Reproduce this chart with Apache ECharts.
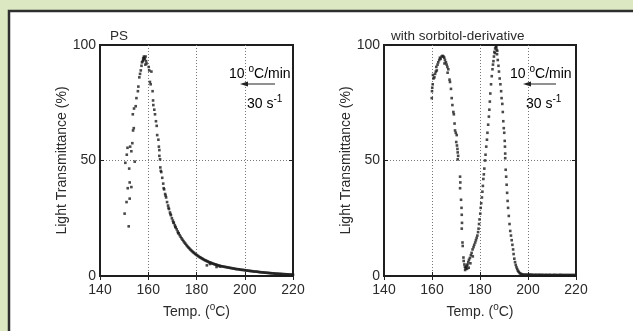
<!DOCTYPE html>
<html>
<head>
<meta charset="utf-8">
<script src="https://cdn.jsdelivr.net/npm/echarts@6/dist/echarts.min.js"></script>
<style>
html,body{margin:0;padding:0;background:#dbe8c2;}
#c{width:633px;height:331px;}
</style>
</head>
<body>
<div id="c"></div>
<script>
// ---- data ----
var xTicks = [140, 160, 180, 200, 220];
var yTicks = [0, 50, 100];
var titles = ['PS', 'with sorbitol-derivative'];

// PS: temperature (°C) and light transmittance (%)
var psTemp = [
151.9,150.2,151.0,152.3,151.5,153.0,152.3,152.1,150.5,154.4,151.1,153.0,151.4,153.4,152.5,153.7,154.0,153.6,154.1,154.8,
155.1,155.7,155.9,156.3,156.6,156.9,157.2,157.4,157.7,158.0,158.3,158.6,158.9,159.1,159.3,158.8,158.2,157.9,
160.2,160.4,161.3,160.7,161.0,161.8,162.0,162.1,162.5,162.8,163.2,163.5,163.7,164.2,164.4,164.6,164.9,164.6,
165.0,165.4,165.8,166.2,166.6,167.0,167.4,167.8,168.2,168.6,169.0,169.4,169.8,170.2,170.6,171.0,171.4,171.8,172.2,172.6,
173.0,173.4,173.8,174.2,174.6,175.0,175.4,175.8,176.2,176.6,177.0,177.4,177.8,178.2,178.6,179.0,179.4,179.8,180.2,180.6,
181.0,181.4,181.8,182.2,182.6,183.0,183.4,183.8,184.2,184.6,185.0,185.4,185.8,186.2,186.6,187.0,187.4,187.8,188.2,188.6,
189.0,189.5,190.0,190.5,191.0,191.5,192.0,192.5,193.0,193.5,194.0,194.5,195.0,195.5,196.0,196.5,197.0,197.5,198.0,198.5,
199.0,199.5,200.0,200.5,201.0,201.5,202.0,202.5,203.0,203.5,204.0,204.5,205.0,205.5,206.0,206.5,207.0,207.5,208.0,208.5,
209.0,209.5,210.0,210.5,211.0,211.5,212.0,212.5,213.0,213.5,214.0,214.5,215.0,215.5,216.0,216.5,217.0,217.5,218.0,218.5,
219.0,219.5,220.0,184.3,185.6,188.3,189.7,165.2,166.4,167.2,168.4,169.2,170.4,171.2,172.4
];
var psTrans = [
21.5,27,32,33.5,38,38.5,40.5,46.5,49,49.5,52.5,54,55.5,57.5,56,63,64,70,72.5,73.5,
77,80,82,86,87.5,89,91,92.5,93,93.5,94.5,94,95,93,92,91.5,95,94.2,
90.5,89,88.5,84,83,80,76,74,72,70,67,65,61,59,56,54.5,50.5,52,
47,45,42.5,40,37.5,35.5,34,32,30.5,29,27.5,26.3,25,24,23,22,21,20.2,19.3,18.5,
17.7,17,16.3,15.7,15.1,14.5,14,13.4,12.9,12.4,12,11.5,11.1,10.7,10.3,10,9.6,9.3,9,8.7,
8.4,8.1,7.9,7.6,7.4,7.1,6.9,6.7,6.5,6.3,6.1,5.9,5.8,5.6,5.4,5.3,5.1,5.0,4.9,4.7,
4.6,4.5,4.3,4.2,4.1,4.0,3.9,3.8,3.7,3.6,3.5,3.4,3.3,3.2,3.1,3.0,2.95,2.9,2.8,2.7,
2.65,2.6,2.5,2.4,2.35,2.3,2.2,2.15,2.1,2.0,1.95,1.9,1.85,1.8,1.7,1.65,1.6,1.55,1.5,1.45,
1.4,1.35,1.3,1.25,1.2,1.15,1.1,1.05,1.0,1.0,0.95,0.9,0.9,0.85,0.8,0.8,0.75,0.7,0.7,0.65,
0.6,0.6,0.55,4.6,5.2,3.9,4.1,45.5,38,34.8,29.5,26.8,23.2,21.3,18.6
];

// with sorbitol-derivative
var sbTemp = [
159.9,160.0,160.1,160.3,160.6,160.4,161.0,161.3,161.6,162.0,161.8,162.3,162.6,163.0,163.3,163.6,164.0,164.4,164.8,165.1,
165.4,165.2,165.8,166.1,166.4,166.8,166.5,167.3,167.5,167.9,168.2,168.5,168.9,169.1,169.4,169.6,169.9,170.3,170.1,170.4,
170.6,170.7,170.9,170.7,171.7,171.8,171.7,172.1,172.3,172.4,172.5,172.4,172.7,172.8,173.1,173.2,173.5,173.7,174.0,174.3,
174.5,174.8,175.1,175.4,175.8,176.2,176.5,176.9,177.3,177.6,178.0,178.3,178.6,178.9,179.2,179.4,179.6,179.8,180.1,180.3,
180.5,180.8,181.0,181.2,181.4,181.6,181.8,182.1,182.3,182.6,182.9,183.1,183.4,183.7,183.9,184.1,184.3,184.6,184.9,185.2,
185.6,185.8,186.0,186.3,186.6,186.9,187.1,187.4,187.7,187.9,188.2,188.5,188.8,189.0,189.3,189.5,189.7,189.9,190.1,190.3,
190.4,190.5,190.5,190.7,190.9,191.1,191.3,191.5,191.7,192.0,192.3,192.6,192.9,193.2,193.5,193.8,194.0,194.3,194.6,194.9,
195.2,195.5,195.8,196.1,196.5,196.9,197.4,198.0,198.5,199.0,199.5,200.0,200.5,201.0,201.5,202.0,202.5,203.0,203.5,204.0,
204.5,205.0,205.5,206.0,206.5,207.0,207.5,208.0,208.5,209.0,209.5,210.0,210.5,211.0,211.5,212.0,212.5,213.0,213.5,214.0,
214.5,215.0,215.5,216.0,216.5,217.0,217.5,218.0,218.5,219.0,219.5,173.8,174.6,175.3,176.0,177.0,185.4,186.2,186.8,187.2
];
var sbTrans = [
77,80,81.5,83,85.5,87,86,87.5,88.5,89,90.5,91.5,92.5,93.5,94.5,94,95,95.3,95,94.5,
93.5,92,92.5,91.5,90.5,89.5,88,85,84,81,77,74,71,70,66,63,62,61,58,56.5,
55,53.5,52,50.5,43,40.5,38,33,29.5,26.5,23,20.5,14.5,13,8,6.5,5,4,3.3,3.8,
4.5,5,6,7,7.8,9,10,11.5,12.5,13.5,14.5,15.5,16.5,17.5,19,20.5,22.5,24.5,27,29.5,
31.5,34,36.5,39,42,44,46.5,50,52.5,56,59,62,65.5,69,72,75.5,79,83,86.5,89.5,
93,95,97,98.5,99.3,98,96,93.5,91,88.5,85.5,83,80,77,74.5,71,67,64,62,58.5,
56,53,51,46,43,39.5,36,32.5,29.5,26,22.5,19.5,17.5,15.5,13.5,11.5,9.5,7.5,6,4.8,
3.8,3,2.3,1.8,1.3,1,0.8,0.6,0.6,0.5,0.6,0.5,0.5,0.6,0.5,0.5,0.4,0.5,0.5,0.4,
0.5,0.5,0.4,0.5,0.4,0.4,0.5,0.4,0.4,0.5,0.4,0.4,0.4,0.5,0.4,0.4,0.4,0.4,0.5,0.4,
0.4,0.4,0.4,0.4,0.4,0.4,0.4,0.4,0.4,0.4,0.4,2.6,3.1,3.6,5.5,8.5,91.5,96.5,99,97.5
];

function pairs(xs, ys){ return xs.map(function(x,i){ return [x, ys[i]]; }); }

var chart = echarts.init(document.getElementById('c'));
var FONT = 'Liberation Sans, Arial, sans-serif';
var TXT = '#2b2b2b';
var FS = 14;
var supRich = {
  n: {fontSize: FS, fontFamily: FONT, color: TXT, lineHeight: 17, verticalAlign: 'bottom'},
  sup: {fontSize: 10, fontFamily: FONT, color: TXT, lineHeight: 17, verticalAlign: 'top', padding: [0,0,7,0]}
};

var grids = [
  {left: 100, top: 45, width: 193, height: 231},
  {left: 384, top: 45, width: 192, height: 231}
];

function xBottom(g){
  return {
    type: 'value', gridIndex: g, min: 140, max: 220, interval: 20,
    axisLine: {show: false},
    axisTick: {show: true, inside: true, length: 4, lineStyle: {color: '#222', width: 1}},
    axisLabel: {margin: 7, fontSize: FS, fontFamily: FONT, color: TXT,
      customValues: xTicks},
    splitLine: {show: true, showMinLine: false, showMaxLine: false,
      lineStyle: {type: [1, 2], color: '#777', width: 1}},
    name: '{n|Temp. (}{sup|o}{n|C)}', nameLocation: 'middle', nameGap: 24,
    nameTextStyle: {rich: supRich}
  };
}
function xTop(g){
  return {
    type: 'value', gridIndex: g, position: 'top', min: 140, max: 220, interval: 20,
    axisLine: {show: false},
    axisTick: {show: true, inside: true, length: 4, lineStyle: {color: '#222', width: 1}},
    axisLabel: {show: false}, splitLine: {show: false}
  };
}
function yLeft(g){
  return {
    type: 'value', gridIndex: g, min: 0, max: 100, interval: 50,
    axisLine: {show: false},
    axisTick: {show: true, inside: true, length: 4, lineStyle: {color: '#222', width: 1}},
    axisLabel: {margin: 4, fontSize: FS, fontFamily: FONT, color: TXT, customValues: yTicks},
    splitLine: {show: true, showMinLine: false, showMaxLine: false,
      lineStyle: {type: [1, 2], color: '#777', width: 1}},
    name: 'Light Transmittance (%)', nameLocation: 'middle', nameGap: 26,
    nameTextStyle: {fontSize: FS, fontFamily: FONT, color: TXT}
  };
}
function yRight(g){
  return {
    type: 'value', gridIndex: g, position: 'right', min: 0, max: 100, interval: 50,
    axisLine: {show: false},
    axisTick: {show: true, inside: true, length: 4, lineStyle: {color: '#222', width: 1}},
    axisLabel: {show: false}, splitLine: {show: false}
  };
}

function annot(x0, x1, xt, xs){
  return [
    {type: 'text', x: xt, y: 73, z: 10, style: {text: '{n|10 }{sup|o}{n|C/min}', rich: supRich, verticalAlign: 'middle'}},
    {type: 'line', z: 10, shape: {x1: x1, y1: 84, x2: x0 + 6, y2: 84}, style: {stroke: '#222', lineWidth: 1}},
    {type: 'polygon', z: 10, shape: {points: [[x0, 84], [x0 + 8, 81.5], [x0 + 8, 86.5]]}, style: {fill: '#222'}},
    {type: 'text', x: xs, y: 103, z: 10, style: {text: '{n|30 s}{sup|-1}', rich: supRich, verticalAlign: 'middle'}}
  ];
}

var option = {
  animation: false,
  backgroundColor: 'transparent',
  title: [
    {text: titles[0], left: 105, top: 24, textStyle: {fontSize: 13.5, fontWeight: 'normal', fontFamily: FONT, color: TXT}},
    {text: titles[1], left: 386, top: 24, textStyle: {fontSize: 13.5, fontWeight: 'normal', fontFamily: FONT, color: TXT}}
  ],
  grid: grids.map(function(g){ return Object.assign({show: true, backgroundColor: '#fff', borderColor: '#1e1e1e', borderWidth: 2}, g); }),
  xAxis: [xBottom(0), xBottom(1), xTop(0), xTop(1)],
  yAxis: [yLeft(0), yLeft(1), yRight(0), yRight(1)],
  series: [
    {type: 'scatter', xAxisIndex: 0, yAxisIndex: 0, data: pairs(psTemp, psTrans),
      symbol: 'rect', symbolSize: 2.6, itemStyle: {color: '#1b1b1b'}, silent: true},
    {type: 'scatter', xAxisIndex: 1, yAxisIndex: 1, data: pairs(sbTemp, sbTrans),
      symbol: 'rect', symbolSize: 2.6, itemStyle: {color: '#1b1b1b'}, silent: true}
  ],
  graphic: [
    {type: 'rect', z: -10, shape: {x: 9, y: 11, width: 700, height: 400}, style: {fill: '#fff', stroke: '#2e2e2e', lineWidth: 2.5}}
  ].concat(annot(240, 275, 229, 247)).concat(annot(523, 556, 510, 526))
};
chart.setOption(option);
</script>
</body>
</html>
